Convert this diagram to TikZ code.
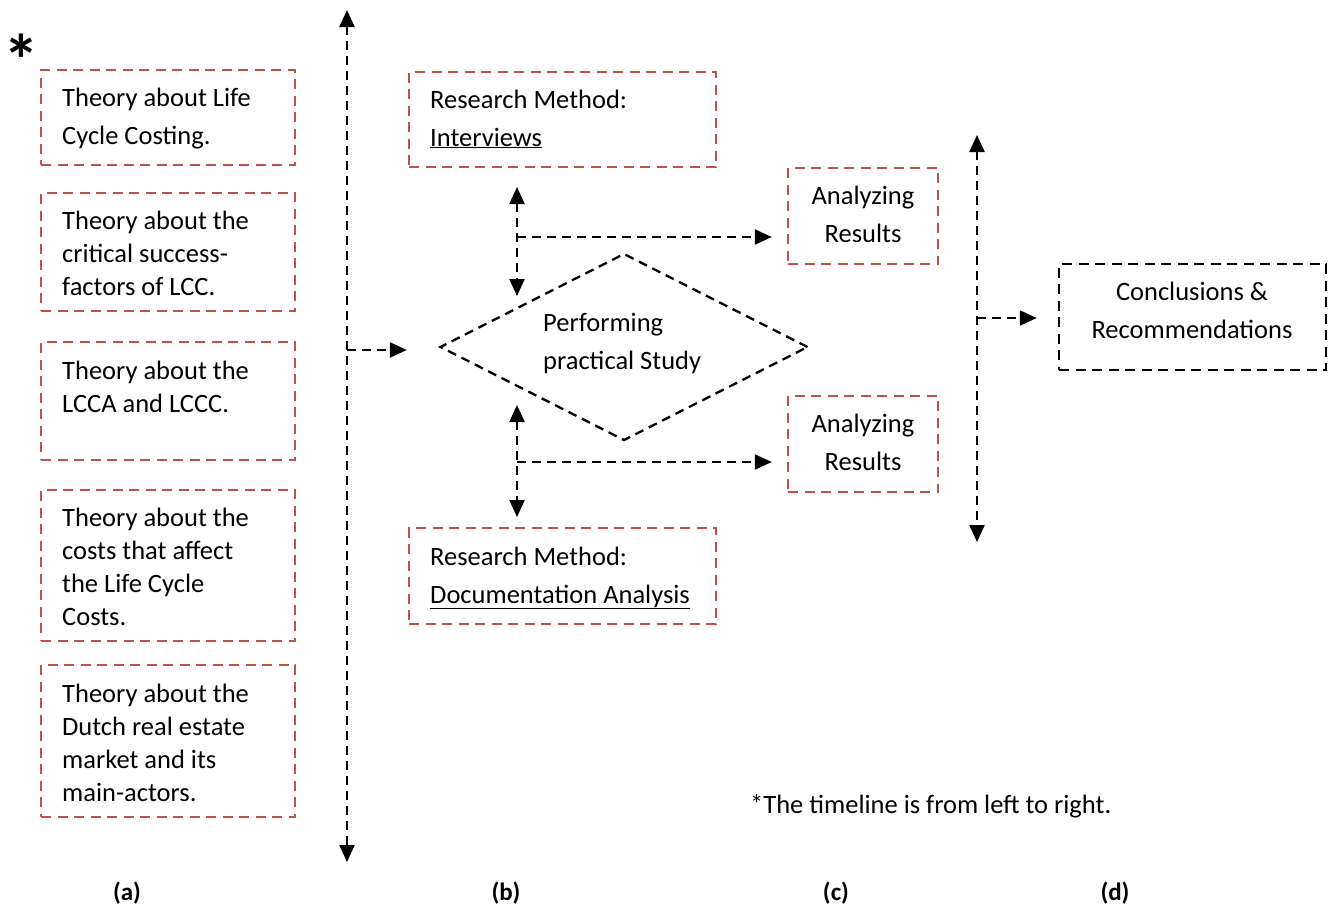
\documentclass[tikz,border=0pt]{standalone}
\usepackage{fontspec}
\setmainfont{Carlito}
\usetikzlibrary{arrows.meta,shapes.geometric}
\definecolor{boxred}{HTML}{C0504D}
\begin{document}
\begin{tikzpicture}[x=1pt,y=-1pt,
  redbox/.style={draw=boxred,line width=2.5pt,dash pattern=on 10pt off 6.5pt,rectangle,inner sep=0pt},
  blackbox/.style={draw=black,line width=2.5pt,dash pattern=on 10pt off 6.5pt,rectangle,inner sep=0pt},
  flow/.style={draw=black,line width=2.3pt,dash pattern=on 9pt off 6pt,
    arrows={-Triangle[length=17pt,width=15pt]}},
  flowboth/.style={flow,arrows={Triangle[length=17pt,width=15pt]-Triangle[length=17pt,width=15pt]}},
  txtsingle/.style={inner sep=0pt,align=left,anchor=base west,font=\fontsize{26.5}{33}\selectfont},
  txtwide/.style={inner sep=0pt,align=left,anchor=base west,font=\fontsize{26.5}{38}\selectfont},
  txtcentre/.style={inner sep=0pt,align=center,anchor=base,font=\fontsize{26.5}{38}\selectfont},
  caption/.style={inner sep=0pt,anchor=base,font=\fontsize{25}{30}\selectfont\bfseries}]
\path[use as bounding box] (0,0) rectangle (1338,906);

% star marking the note at the bottom
\node[inner sep=0pt,font=\fontsize{72}{72}\selectfont\bfseries] (star) at (21,60) {*};

% (a) theory boxes (text nodes are anchored at the baseline of their last line)
\node[redbox,minimum width=254pt,minimum height=95pt] (a1) at (168,117.5) {};
\node[txtwide] (a1t) at (62,144) {Theory about Life\\Cycle Costing.};
\node[redbox,minimum width=254pt,minimum height=118pt] (a2) at (168,252) {};
\node[txtsingle] (a2t) at (62,295) {Theory about the\\critical success-\\factors of LCC.};
\node[redbox,minimum width=254pt,minimum height=118pt] (a3) at (168,401) {};
\node[txtsingle] (a3t) at (62,412) {Theory about the\\LCCA and LCCC.};
\node[redbox,minimum width=254pt,minimum height=151pt] (a4) at (168,565.5) {};
\node[txtsingle] (a4t) at (62,625) {Theory about the\\costs that affect\\the Life Cycle\\Costs.};
\node[redbox,minimum width=254pt,minimum height=152pt] (a5) at (168,741) {};
\node[txtsingle] (a5t) at (62,801) {Theory about the\\Dutch real estate\\market and its\\main-actors.};

% first timeline
\coordinate (tl1top) at (347,10);
\coordinate (tl1bot) at (347,862);
\coordinate (tl1mid) at (347,350);
\draw[flowboth] (tl1top) -- (tl1bot);

% (b) practical study
\node[draw=black,line width=2.3pt,dash pattern=on 9pt off 6pt,diamond,inner sep=0pt,
  minimum width=368pt,minimum height=187pt] (study) at (624,347) {};
\node[txtwide] (studyt) at (543,369) {Performing\\practical Study};
\draw[flow] (tl1mid) -- ([xshift=-32pt]study.west |- tl1mid);

\node[redbox,minimum width=307pt,minimum height=95pt] (intv) at (562.5,119.5) {};
\node[txtwide] (intvt) at (430,146) {Research Method:\\\underline{Interviews}};
\node[redbox,minimum width=307pt,minimum height=96pt] (docu) at (562.5,576) {};
\node[txtwide] (docut) at (430,603) {Research Method:\\\underline{Documentation Analysis}};

% (c) analysis of the results
\node[redbox,minimum width=150pt,minimum height=96pt] (res1) at (863,216) {};
\node[txtcentre] (res1t) at (863,242) {Analyzing\\Results};
\node[redbox,minimum width=150pt,minimum height=96pt] (res2) at (863,444) {};
\node[txtcentre] (res2t) at (863,470) {Analyzing\\Results};

\coordinate (up1) at (517,187);
\coordinate (up2) at (517,296);
\coordinate (upb) at (517,237);
\draw[flowboth] (up1) -- (up2);
\draw[flow] (upb) -- ([xshift=-15pt]res1.west |- upb);

\coordinate (lo1) at (517,405);
\coordinate (lo2) at (517,517);
\coordinate (lob) at (517,462);
\draw[flowboth] (lo1) -- (lo2);
\draw[flow] (lob) -- ([xshift=-15pt]res2.west |- lob);

% second timeline and (d) conclusions
\coordinate (tl2top) at (977,135);
\coordinate (tl2bot) at (977,542);
\coordinate (tl2mid) at (977,318);
\draw[flowboth] (tl2top) -- (tl2bot);
\node[blackbox,minimum width=267pt,minimum height=106pt] (concl) at (1192.5,317) {};
\node[txtcentre] (conclt) at (1192,338) {Conclusions \&\\Recommendations};
\draw[flow] (tl2mid) -- ([xshift=-21pt]concl.west |- tl2mid);

% note and column captions
\node[inner sep=0pt,anchor=base west,font=\fontsize{26.5}{33}\selectfont] (note) at (750,813) {*The timeline is from left to right.};
\node[caption] (capa) at (127,900) {(a)};
\node[caption] (capb) at (506,900) {(b)};
\node[caption] (capc) at (836,900) {(c)};
\node[caption] (capd) at (1115,900) {(d)};
\end{tikzpicture}
\end{document}
